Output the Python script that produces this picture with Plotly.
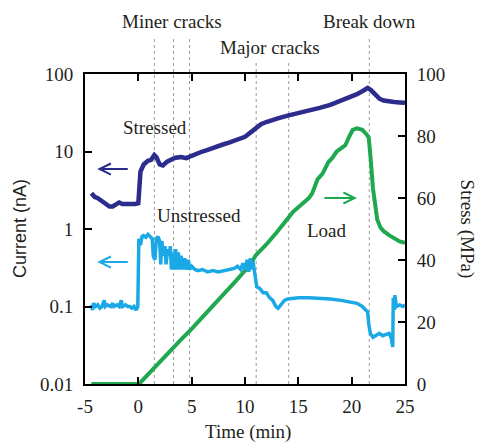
import plotly.graph_objects as go

# ---- data ----
t_stressed = [-4.4, -4.1, -3.8, -3.4, -3.0, -2.7, -2.4, -2.1, -1.8, -1.5, -1.1, -0.7, -0.3, 0.0,
              0.2, 0.5, 0.9, 1.2, 1.5, 1.7, 2.0, 2.3, 2.7, 3.1, 3.5, 4.0, 4.5, 5.0, 5.5, 6.0,
              6.5, 7.0, 7.5, 8.0, 8.5, 9.0, 9.5, 10.0, 10.5, 11.0, 11.5, 12.0, 12.5, 13.0,
              14.0, 15.0, 16.0, 17.0, 18.0, 19.0, 19.8, 20.5, 21.0, 21.5, 21.8, 22.2, 22.6,
              23.0, 23.5, 24.0, 24.5, 25.0]
i_stressed = [2.9, 2.6, 2.5, 2.3, 2.15, 1.95, 1.95, 2.05, 2.2, 2.1, 2.1, 2.05, 2.1, 2.15,
              5.5, 6.8, 7.6, 7.8, 9.0, 8.4, 6.8, 6.6, 7.4, 7.9, 8.3, 8.5, 8.2, 8.8, 9.5, 10.0,
              10.5, 11.2, 11.8, 12.4, 13.0, 13.8, 14.5, 15.5, 17.5, 20.0, 22.5, 24.0, 25.5, 26.5,
              29.0, 31.0, 33.5, 36.5, 40.0, 45.0, 50.0, 55.0, 60.0, 66.0, 62.0, 54.0, 48.0,
              45.5, 44.0, 43.5, 43.0, 42.5]

t_unstressed = [-4.4, -4.3, -4.2, -4.0, -3.8, -3.6, -3.4, -3.2, -3.1, -2.9, -2.6, -2.4, -2.3,
                -2.0, -1.8, -1.6, -1.5, -1.2, -1.0, -0.8, -0.6, -0.4, -0.2, -0.05,
                0.05, 0.2, 0.35, 0.5, 0.7, 0.9, 1.1, 1.3, 1.4, 1.55, 1.7, 1.85, 2.0, 2.1, 2.2,
                2.35, 2.5, 2.6, 2.75, 2.9, 3.0, 3.1, 3.25, 3.4, 3.5, 3.6, 3.75, 3.9, 4.0, 4.2,
                4.35, 4.5, 4.7, 4.8, 5.0, 5.3, 5.6, 6.0, 6.5, 7.0, 7.5, 8.0, 8.5, 9.0, 9.3,
                9.6, 9.8, 10.0, 10.2, 10.35, 10.5, 10.6, 10.75, 10.9, 11.1, 11.4, 11.7, 12.0,
                12.3, 12.6, 12.9, 13.1, 13.4, 13.7, 14.0, 14.5, 15.0, 16.0, 17.0, 18.0, 19.0,
                19.8, 20.5, 21.0, 21.3, 21.5, 21.6, 21.75, 22.0, 22.3, 22.6, 22.9, 23.2, 23.5,
                23.7, 23.85, 23.9, 24.0, 24.05, 24.2, 24.5, 24.8, 25.0]
i_unstressed = [0.105, 0.09, 0.11, 0.1, 0.105, 0.095, 0.1, 0.12, 0.1, 0.105, 0.1, 0.11, 0.1,
                0.105, 0.1, 0.12, 0.1, 0.105, 0.1, 0.1, 0.095, 0.1, 0.09, 0.1,
                0.75, 0.62, 0.8, 0.82, 0.78, 0.85, 0.8, 0.75, 0.45, 0.4, 0.75, 0.8, 0.7, 0.35, 0.7,
                0.45, 0.6, 0.35, 0.55, 0.45, 0.6, 0.3, 0.5, 0.3, 0.55, 0.3, 0.5, 0.3, 0.45, 0.3,
                0.42, 0.3, 0.4, 0.3, 0.33, 0.3, 0.29, 0.3, 0.28, 0.29, 0.28, 0.29, 0.3, 0.31, 0.33,
                0.3, 0.36, 0.3, 0.4, 0.28, 0.42, 0.3, 0.38, 0.25, 0.18, 0.17, 0.15, 0.15,
                0.13, 0.12, 0.1, 0.095, 0.105, 0.12, 0.125, 0.128, 0.13, 0.13, 0.128, 0.125, 0.12,
                0.115, 0.11, 0.1, 0.09, 0.085, 0.06, 0.045, 0.04, 0.042, 0.045, 0.042, 0.043, 0.045,
                0.04, 0.03, 0.13, 0.09, 0.14, 0.1, 0.105, 0.1, 0.105]

t_load = [-4.4, -0.1, 0.2, 1.0, 2.0, 3.0, 4.0, 5.0, 6.0, 7.0, 8.0, 9.0, 10.0, 10.5, 11.0, 12.0,
          13.0, 14.0, 14.5, 15.0, 15.5, 16.0, 16.3, 16.8, 17.3, 17.8, 18.2, 18.6, 19.0, 19.4,
          19.8, 20.1, 20.5, 21.0, 21.4, 21.6, 21.75, 21.85, 22.0, 22.2, 22.4, 22.7, 23.0, 23.5,
          24.0, 24.5, 25.0]
stress_load = [0, 0, 0.5, 3.5, 7.2, 10.8, 14.3, 17.8, 21.4, 25.0, 29.0, 32.7, 36.5, 38.5, 41.5, 45.0,
               49.0, 53.5, 55.5, 57.0, 58.5, 60.0, 61.5, 66.0, 68.0, 71.5, 73.0, 75.0, 76.0, 77.0,
               80.0, 82.0, 82.5, 82.0, 80.5, 79.5, 74.0, 68.0, 63.0, 58.0, 53.0, 50.5, 49.3, 48.0,
               47.0, 46.0, 45.5]

miner_cracks = [1.5, 3.3, 4.8]
major_cracks = [11.05, 14.1]
break_down = [21.65]

x_ticks = [-5, 0, 5, 10, 15, 20, 25]
x_ticktext = ["-5", "0", "5", "10", "15", "20", "25"]
current_ticks = [0.01, 0.1, 1, 10, 100]
current_ticktext = ["0.01", "0.1", "1", "10", "100"]
stress_ticks = [0, 20, 40, 60, 80, 100]

# ---- styles ----
NAVY = "#2b2c8c"
CYAN = "#1aa9e6"
GREEN = "#1fa84f"
TXT = "#231f20"
SERIF = "Liberation Serif, Times New Roman, serif"
FS = 19

fig = go.Figure()
fig.add_trace(go.Scatter(x=t_load, y=stress_load, yaxis="y", mode="lines",
                         line=dict(color=GREEN, width=4), showlegend=False))
fig.add_trace(go.Scatter(x=t_unstressed, y=i_unstressed, yaxis="y2", mode="lines",
                         line=dict(color=CYAN, width=3.5), showlegend=False))
fig.add_trace(go.Scatter(x=t_stressed, y=i_stressed, yaxis="y2", mode="lines",
                         line=dict(color=NAVY, width=4.5), showlegend=False))

shapes = []
for tx in miner_cracks + break_down:
    shapes.append(dict(type="line", xref="x", yref="paper", x0=tx, x1=tx, y0=0, y1=1.116,
                       line=dict(color="#9a9a9a", width=1, dash="dot"), layer="below"))
for tx in major_cracks:
    shapes.append(dict(type="line", xref="x", yref="paper", x0=tx, x1=tx, y0=0, y1=1.039,
                       line=dict(color="#9a9a9a", width=1, dash="dot"), layer="below"))

font = dict(family=SERIF, size=FS, color=TXT)


def label(text, x, y, **kw):
    d = dict(text=text, x=x, y=y, xref="paper", yref="paper", showarrow=False,
             xanchor="center", yanchor="middle", font=font)
    d.update(kw)
    return d


ann = [
    label("Miner cracks", 0.272, 1.168),
    label("Major cracks", 0.578, 1.087),
    label("Break down", 0.8875, 1.168),
    label("Stressed", 0.219, 0.829),
    label("Unstressed", 0.356, 0.545),
    label("Load", 0.756, 0.494),
    label("Time (min)", 0.51, -0.155),
    label("Current (nA)", -0.203, 0.5, textangle=-90,
          font=dict(family="Liberation Sans, Arial, sans-serif", size=18, color=TXT)),
    label("Stress (MPa)", 1.195, 0.5, textangle=90),
    # arrows
    dict(x=-3.85, y=0.774, ax=-0.85, ay=0.774, xref="x", yref="y2", axref="x", ayref="y2",
         showarrow=True, arrowhead=5, arrowsize=1.1, arrowwidth=2, arrowcolor=NAVY, text=""),
    dict(x=-3.85, y=-0.426, ax=-0.85, ay=-0.426, xref="x", yref="y2", axref="x", ayref="y2",
         showarrow=True, arrowhead=5, arrowsize=1.1, arrowwidth=2, arrowcolor=CYAN, text=""),
    dict(x=20.5, y=60, ax=17.3, ay=60, xref="x", yref="y", axref="x", ayref="y",
         showarrow=True, arrowhead=5, arrowsize=1.1, arrowwidth=2, arrowcolor=GREEN, text=""),
]

fig.update_layout(
    width=481, height=443,
    margin=dict(l=85, r=76, t=74, b=59),
    paper_bgcolor="white", plot_bgcolor="white",
    font=font,
    shapes=shapes, annotations=ann,
    xaxis=dict(range=[-5, 25], tickvals=x_ticks, ticktext=x_ticktext, ticks="inside", ticklen=7,
               tickwidth=1.5, showline=True, linecolor="black", linewidth=2, mirror="ticks",
               showgrid=False, zeroline=False, tickfont=font, ticklabelstandoff=4,
               tickcolor="black"),
    yaxis=dict(range=[0, 100], tickvals=stress_ticks, side="right", ticks="inside", ticklen=7,
               tickwidth=1.5, showline=True, linecolor="black", linewidth=2, showgrid=False,
               zeroline=False, tickfont=font, ticklabelstandoff=6, tickcolor="black"),
    yaxis2=dict(type="log", range=[-2, 2], tickvals=current_ticks, ticktext=current_ticktext,
                overlaying="y", side="left", ticks="inside", ticklen=7, tickwidth=1.5,
                showline=True, linecolor="black", linewidth=2, showgrid=False, zeroline=False,
                tickfont=font, ticklabelstandoff=6, tickcolor="black"),
)

fig.write_html("out.html")
